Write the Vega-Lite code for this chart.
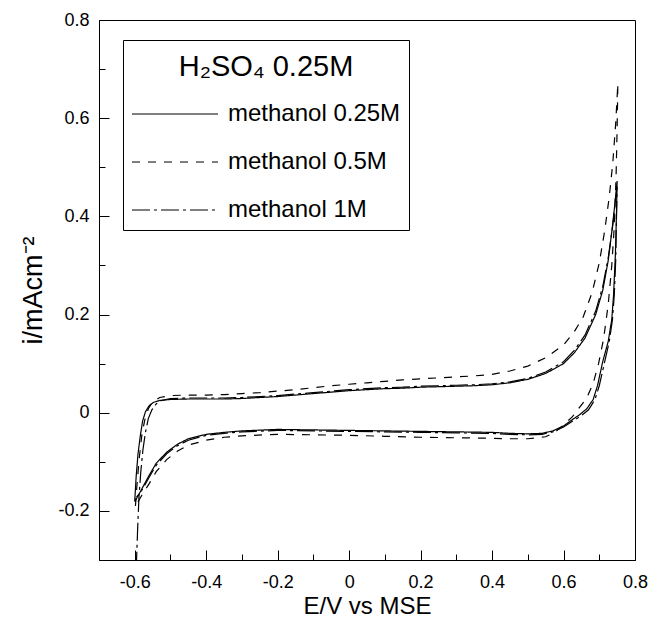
{
  "$schema": "https://vega.github.io/schema/vega-lite/v6.json",
  "width": 536,
  "height": 540,
  "autosize": {"type": "none"},
  "padding": {"left": 99, "top": 20, "right": 16, "bottom": 57},
  "config": {
    "view": {"stroke": "black", "strokeWidth": 1},
    "font": "Liberation Sans",
    "axis": {
      "domainColor": "black", "tickColor": "black", "labelColor": "black", "titleColor": "black",
      "labelFont": "Liberation Sans", "labelFontSize": 18, "titleFont": "Liberation Sans",
      "titleFontSize": 27, "titleFontWeight": "normal", "grid": false, "tickWidth": 1, "domainWidth": 1
    }
  },
  "data": {"values": [
    {"series":"methanol 0.25M","n":1,"E":-0.600,"i":-0.180},
    {"series":"methanol 0.25M","n":2,"E":-0.596,"i":-0.130},
    {"series":"methanol 0.25M","n":3,"E":-0.591,"i":-0.085},
    {"series":"methanol 0.25M","n":4,"E":-0.585,"i":-0.050},
    {"series":"methanol 0.25M","n":5,"E":-0.578,"i":-0.017},
    {"series":"methanol 0.25M","n":6,"E":-0.570,"i":0.002},
    {"series":"methanol 0.25M","n":7,"E":-0.560,"i":0.014},
    {"series":"methanol 0.25M","n":8,"E":-0.548,"i":0.021},
    {"series":"methanol 0.25M","n":9,"E":-0.530,"i":0.025},
    {"series":"methanol 0.25M","n":10,"E":-0.500,"i":0.027},
    {"series":"methanol 0.25M","n":11,"E":-0.450,"i":0.028},
    {"series":"methanol 0.25M","n":12,"E":-0.400,"i":0.028},
    {"series":"methanol 0.25M","n":13,"E":-0.350,"i":0.028},
    {"series":"methanol 0.25M","n":14,"E":-0.300,"i":0.029},
    {"series":"methanol 0.25M","n":15,"E":-0.250,"i":0.031},
    {"series":"methanol 0.25M","n":16,"E":-0.200,"i":0.033},
    {"series":"methanol 0.25M","n":17,"E":-0.150,"i":0.036},
    {"series":"methanol 0.25M","n":18,"E":-0.100,"i":0.039},
    {"series":"methanol 0.25M","n":19,"E":-0.050,"i":0.042},
    {"series":"methanol 0.25M","n":20,"E":0.000,"i":0.045},
    {"series":"methanol 0.25M","n":21,"E":0.050,"i":0.047},
    {"series":"methanol 0.25M","n":22,"E":0.100,"i":0.049},
    {"series":"methanol 0.25M","n":23,"E":0.150,"i":0.050},
    {"series":"methanol 0.25M","n":24,"E":0.200,"i":0.052},
    {"series":"methanol 0.25M","n":25,"E":0.250,"i":0.053},
    {"series":"methanol 0.25M","n":26,"E":0.300,"i":0.054},
    {"series":"methanol 0.25M","n":27,"E":0.350,"i":0.055},
    {"series":"methanol 0.25M","n":28,"E":0.400,"i":0.057},
    {"series":"methanol 0.25M","n":29,"E":0.450,"i":0.061},
    {"series":"methanol 0.25M","n":30,"E":0.500,"i":0.068},
    {"series":"methanol 0.25M","n":31,"E":0.550,"i":0.080},
    {"series":"methanol 0.25M","n":32,"E":0.600,"i":0.100},
    {"series":"methanol 0.25M","n":33,"E":0.630,"i":0.122},
    {"series":"methanol 0.25M","n":34,"E":0.660,"i":0.152},
    {"series":"methanol 0.25M","n":35,"E":0.690,"i":0.200},
    {"series":"methanol 0.25M","n":36,"E":0.710,"i":0.250},
    {"series":"methanol 0.25M","n":37,"E":0.725,"i":0.310},
    {"series":"methanol 0.25M","n":38,"E":0.737,"i":0.380},
    {"series":"methanol 0.25M","n":39,"E":0.745,"i":0.435},
    {"series":"methanol 0.25M","n":40,"E":0.750,"i":0.472},
    {"series":"methanol 0.25M","n":41,"E":0.748,"i":0.400},
    {"series":"methanol 0.25M","n":42,"E":0.745,"i":0.320},
    {"series":"methanol 0.25M","n":43,"E":0.740,"i":0.240},
    {"series":"methanol 0.25M","n":44,"E":0.735,"i":0.190},
    {"series":"methanol 0.25M","n":45,"E":0.725,"i":0.145},
    {"series":"methanol 0.25M","n":46,"E":0.710,"i":0.105},
    {"series":"methanol 0.25M","n":47,"E":0.695,"i":0.055},
    {"series":"methanol 0.25M","n":48,"E":0.683,"i":0.027},
    {"series":"methanol 0.25M","n":49,"E":0.665,"i":0.008},
    {"series":"methanol 0.25M","n":50,"E":0.645,"i":-0.004},
    {"series":"methanol 0.25M","n":51,"E":0.625,"i":-0.014},
    {"series":"methanol 0.25M","n":52,"E":0.600,"i":-0.027},
    {"series":"methanol 0.25M","n":53,"E":0.570,"i":-0.037},
    {"series":"methanol 0.25M","n":54,"E":0.540,"i":-0.042},
    {"series":"methanol 0.25M","n":55,"E":0.500,"i":-0.043},
    {"series":"methanol 0.25M","n":56,"E":0.450,"i":-0.042},
    {"series":"methanol 0.25M","n":57,"E":0.400,"i":-0.040},
    {"series":"methanol 0.25M","n":58,"E":0.300,"i":-0.039},
    {"series":"methanol 0.25M","n":59,"E":0.200,"i":-0.038},
    {"series":"methanol 0.25M","n":60,"E":0.100,"i":-0.037},
    {"series":"methanol 0.25M","n":61,"E":0.000,"i":-0.036},
    {"series":"methanol 0.25M","n":62,"E":-0.100,"i":-0.035},
    {"series":"methanol 0.25M","n":63,"E":-0.200,"i":-0.034},
    {"series":"methanol 0.25M","n":64,"E":-0.300,"i":-0.037},
    {"series":"methanol 0.25M","n":65,"E":-0.350,"i":-0.040},
    {"series":"methanol 0.25M","n":66,"E":-0.400,"i":-0.044},
    {"series":"methanol 0.25M","n":67,"E":-0.450,"i":-0.053},
    {"series":"methanol 0.25M","n":68,"E":-0.480,"i":-0.064},
    {"series":"methanol 0.25M","n":69,"E":-0.510,"i":-0.080},
    {"series":"methanol 0.25M","n":70,"E":-0.540,"i":-0.103},
    {"series":"methanol 0.25M","n":71,"E":-0.560,"i":-0.128},
    {"series":"methanol 0.25M","n":72,"E":-0.580,"i":-0.155},
    {"series":"methanol 0.25M","n":73,"E":-0.595,"i":-0.175},
    {"series":"methanol 0.25M","n":74,"E":-0.600,"i":-0.182},

    {"series":"methanol 0.5M","n":1,"E":-0.598,"i":-0.190},
    {"series":"methanol 0.5M","n":2,"E":-0.593,"i":-0.140},
    {"series":"methanol 0.5M","n":3,"E":-0.587,"i":-0.090},
    {"series":"methanol 0.5M","n":4,"E":-0.580,"i":-0.045},
    {"series":"methanol 0.5M","n":5,"E":-0.572,"i":-0.015},
    {"series":"methanol 0.5M","n":6,"E":-0.562,"i":0.008},
    {"series":"methanol 0.5M","n":7,"E":-0.550,"i":0.022},
    {"series":"methanol 0.5M","n":8,"E":-0.530,"i":0.031},
    {"series":"methanol 0.5M","n":9,"E":-0.500,"i":0.035},
    {"series":"methanol 0.5M","n":10,"E":-0.450,"i":0.036},
    {"series":"methanol 0.5M","n":11,"E":-0.400,"i":0.036},
    {"series":"methanol 0.5M","n":12,"E":-0.350,"i":0.037},
    {"series":"methanol 0.5M","n":13,"E":-0.300,"i":0.039},
    {"series":"methanol 0.5M","n":14,"E":-0.250,"i":0.041},
    {"series":"methanol 0.5M","n":15,"E":-0.200,"i":0.044},
    {"series":"methanol 0.5M","n":16,"E":-0.150,"i":0.047},
    {"series":"methanol 0.5M","n":17,"E":-0.100,"i":0.051},
    {"series":"methanol 0.5M","n":18,"E":-0.050,"i":0.055},
    {"series":"methanol 0.5M","n":19,"E":0.000,"i":0.058},
    {"series":"methanol 0.5M","n":20,"E":0.050,"i":0.061},
    {"series":"methanol 0.5M","n":21,"E":0.100,"i":0.064},
    {"series":"methanol 0.5M","n":22,"E":0.150,"i":0.067},
    {"series":"methanol 0.5M","n":23,"E":0.200,"i":0.069},
    {"series":"methanol 0.5M","n":24,"E":0.250,"i":0.071},
    {"series":"methanol 0.5M","n":25,"E":0.300,"i":0.073},
    {"series":"methanol 0.5M","n":26,"E":0.350,"i":0.075},
    {"series":"methanol 0.5M","n":27,"E":0.400,"i":0.078},
    {"series":"methanol 0.5M","n":28,"E":0.450,"i":0.085},
    {"series":"methanol 0.5M","n":29,"E":0.500,"i":0.095},
    {"series":"methanol 0.5M","n":30,"E":0.550,"i":0.112},
    {"series":"methanol 0.5M","n":31,"E":0.600,"i":0.138},
    {"series":"methanol 0.5M","n":32,"E":0.630,"i":0.165},
    {"series":"methanol 0.5M","n":33,"E":0.655,"i":0.195},
    {"series":"methanol 0.5M","n":34,"E":0.680,"i":0.245},
    {"series":"methanol 0.5M","n":35,"E":0.700,"i":0.305},
    {"series":"methanol 0.5M","n":36,"E":0.715,"i":0.370},
    {"series":"methanol 0.5M","n":37,"E":0.728,"i":0.440},
    {"series":"methanol 0.5M","n":38,"E":0.738,"i":0.510},
    {"series":"methanol 0.5M","n":39,"E":0.746,"i":0.590},
    {"series":"methanol 0.5M","n":40,"E":0.752,"i":0.670},
    {"series":"methanol 0.5M","n":41,"E":0.750,"i":0.580},
    {"series":"methanol 0.5M","n":42,"E":0.747,"i":0.480},
    {"series":"methanol 0.5M","n":43,"E":0.742,"i":0.380},
    {"series":"methanol 0.5M","n":44,"E":0.735,"i":0.300},
    {"series":"methanol 0.5M","n":45,"E":0.725,"i":0.220},
    {"series":"methanol 0.5M","n":46,"E":0.712,"i":0.150},
    {"series":"methanol 0.5M","n":47,"E":0.698,"i":0.100},
    {"series":"methanol 0.5M","n":48,"E":0.683,"i":0.060},
    {"series":"methanol 0.5M","n":49,"E":0.665,"i":0.030},
    {"series":"methanol 0.5M","n":50,"E":0.646,"i":0.012},
    {"series":"methanol 0.5M","n":51,"E":0.625,"i":-0.008},
    {"series":"methanol 0.5M","n":52,"E":0.600,"i":-0.025},
    {"series":"methanol 0.5M","n":53,"E":0.575,"i":-0.040},
    {"series":"methanol 0.5M","n":54,"E":0.550,"i":-0.049},
    {"series":"methanol 0.5M","n":55,"E":0.500,"i":-0.053},
    {"series":"methanol 0.5M","n":56,"E":0.450,"i":-0.053},
    {"series":"methanol 0.5M","n":57,"E":0.400,"i":-0.052},
    {"series":"methanol 0.5M","n":58,"E":0.300,"i":-0.051},
    {"series":"methanol 0.5M","n":59,"E":0.200,"i":-0.050},
    {"series":"methanol 0.5M","n":60,"E":0.100,"i":-0.048},
    {"series":"methanol 0.5M","n":61,"E":0.000,"i":-0.046},
    {"series":"methanol 0.5M","n":62,"E":-0.100,"i":-0.045},
    {"series":"methanol 0.5M","n":63,"E":-0.200,"i":-0.044},
    {"series":"methanol 0.5M","n":64,"E":-0.300,"i":-0.047},
    {"series":"methanol 0.5M","n":65,"E":-0.350,"i":-0.050},
    {"series":"methanol 0.5M","n":66,"E":-0.400,"i":-0.056},
    {"series":"methanol 0.5M","n":67,"E":-0.450,"i":-0.066},
    {"series":"methanol 0.5M","n":68,"E":-0.480,"i":-0.078},
    {"series":"methanol 0.5M","n":69,"E":-0.510,"i":-0.095},
    {"series":"methanol 0.5M","n":70,"E":-0.540,"i":-0.120},
    {"series":"methanol 0.5M","n":71,"E":-0.560,"i":-0.145},
    {"series":"methanol 0.5M","n":72,"E":-0.580,"i":-0.168},
    {"series":"methanol 0.5M","n":73,"E":-0.598,"i":-0.190},

    {"series":"methanol 1M","n":1,"E":-0.596,"i":-0.320},
    {"series":"methanol 1M","n":2,"E":-0.594,"i":-0.280},
    {"series":"methanol 1M","n":3,"E":-0.591,"i":-0.220},
    {"series":"methanol 1M","n":4,"E":-0.588,"i":-0.170},
    {"series":"methanol 1M","n":5,"E":-0.583,"i":-0.120},
    {"series":"methanol 1M","n":6,"E":-0.577,"i":-0.075},
    {"series":"methanol 1M","n":7,"E":-0.570,"i":-0.040},
    {"series":"methanol 1M","n":8,"E":-0.562,"i":-0.012},
    {"series":"methanol 1M","n":9,"E":-0.552,"i":0.006},
    {"series":"methanol 1M","n":10,"E":-0.540,"i":0.018},
    {"series":"methanol 1M","n":11,"E":-0.525,"i":0.025},
    {"series":"methanol 1M","n":12,"E":-0.500,"i":0.029},
    {"series":"methanol 1M","n":13,"E":-0.450,"i":0.030},
    {"series":"methanol 1M","n":14,"E":-0.400,"i":0.030},
    {"series":"methanol 1M","n":15,"E":-0.350,"i":0.030},
    {"series":"methanol 1M","n":16,"E":-0.300,"i":0.031},
    {"series":"methanol 1M","n":17,"E":-0.250,"i":0.033},
    {"series":"methanol 1M","n":18,"E":-0.200,"i":0.035},
    {"series":"methanol 1M","n":19,"E":-0.150,"i":0.038},
    {"series":"methanol 1M","n":20,"E":-0.100,"i":0.041},
    {"series":"methanol 1M","n":21,"E":-0.050,"i":0.044},
    {"series":"methanol 1M","n":22,"E":0.000,"i":0.047},
    {"series":"methanol 1M","n":23,"E":0.050,"i":0.049},
    {"series":"methanol 1M","n":24,"E":0.100,"i":0.051},
    {"series":"methanol 1M","n":25,"E":0.150,"i":0.052},
    {"series":"methanol 1M","n":26,"E":0.200,"i":0.054},
    {"series":"methanol 1M","n":27,"E":0.250,"i":0.055},
    {"series":"methanol 1M","n":28,"E":0.300,"i":0.056},
    {"series":"methanol 1M","n":29,"E":0.350,"i":0.057},
    {"series":"methanol 1M","n":30,"E":0.400,"i":0.059},
    {"series":"methanol 1M","n":31,"E":0.450,"i":0.063},
    {"series":"methanol 1M","n":32,"E":0.500,"i":0.070},
    {"series":"methanol 1M","n":33,"E":0.550,"i":0.083},
    {"series":"methanol 1M","n":34,"E":0.600,"i":0.104},
    {"series":"methanol 1M","n":35,"E":0.630,"i":0.127},
    {"series":"methanol 1M","n":36,"E":0.660,"i":0.158},
    {"series":"methanol 1M","n":37,"E":0.690,"i":0.207},
    {"series":"methanol 1M","n":38,"E":0.710,"i":0.258},
    {"series":"methanol 1M","n":39,"E":0.725,"i":0.315},
    {"series":"methanol 1M","n":40,"E":0.737,"i":0.378},
    {"series":"methanol 1M","n":41,"E":0.745,"i":0.428},
    {"series":"methanol 1M","n":42,"E":0.750,"i":0.460},
    {"series":"methanol 1M","n":43,"E":0.748,"i":0.390},
    {"series":"methanol 1M","n":44,"E":0.746,"i":0.310},
    {"series":"methanol 1M","n":45,"E":0.742,"i":0.240},
    {"series":"methanol 1M","n":46,"E":0.737,"i":0.190},
    {"series":"methanol 1M","n":47,"E":0.728,"i":0.145},
    {"series":"methanol 1M","n":48,"E":0.714,"i":0.100},
    {"series":"methanol 1M","n":49,"E":0.700,"i":0.055},
    {"series":"methanol 1M","n":50,"E":0.688,"i":0.027},
    {"series":"methanol 1M","n":51,"E":0.670,"i":0.006},
    {"series":"methanol 1M","n":52,"E":0.650,"i":-0.006},
    {"series":"methanol 1M","n":53,"E":0.628,"i":-0.016},
    {"series":"methanol 1M","n":54,"E":0.600,"i":-0.029},
    {"series":"methanol 1M","n":55,"E":0.570,"i":-0.039},
    {"series":"methanol 1M","n":56,"E":0.540,"i":-0.044},
    {"series":"methanol 1M","n":57,"E":0.500,"i":-0.045},
    {"series":"methanol 1M","n":58,"E":0.450,"i":-0.044},
    {"series":"methanol 1M","n":59,"E":0.400,"i":-0.042},
    {"series":"methanol 1M","n":60,"E":0.300,"i":-0.041},
    {"series":"methanol 1M","n":61,"E":0.200,"i":-0.040},
    {"series":"methanol 1M","n":62,"E":0.100,"i":-0.039},
    {"series":"methanol 1M","n":63,"E":0.000,"i":-0.038},
    {"series":"methanol 1M","n":64,"E":-0.100,"i":-0.037},
    {"series":"methanol 1M","n":65,"E":-0.200,"i":-0.036},
    {"series":"methanol 1M","n":66,"E":-0.300,"i":-0.039},
    {"series":"methanol 1M","n":67,"E":-0.350,"i":-0.042},
    {"series":"methanol 1M","n":68,"E":-0.400,"i":-0.046},
    {"series":"methanol 1M","n":69,"E":-0.450,"i":-0.056},
    {"series":"methanol 1M","n":70,"E":-0.480,"i":-0.067},
    {"series":"methanol 1M","n":71,"E":-0.510,"i":-0.083},
    {"series":"methanol 1M","n":72,"E":-0.540,"i":-0.107},
    {"series":"methanol 1M","n":73,"E":-0.560,"i":-0.132},
    {"series":"methanol 1M","n":74,"E":-0.580,"i":-0.158},
    {"series":"methanol 1M","n":75,"E":-0.595,"i":-0.172}
  ]},
  "layer": [
    {
      "mark": {"type": "line", "clip": true, "strokeWidth": 1.2, "color": "black"},
      "encoding": {
        "x": {"field": "E", "type": "quantitative",
          "scale": {"domain": [-0.7, 0.8], "nice": false, "zero": false},
          "axis": {"orient": "bottom", "values": [-0.6, -0.4, -0.2, 0, 0.2, 0.4, 0.6, 0.8], "format": "~g",
            "labelExpr": "replace(datum.label, '−', '-')", "tickSize": -10, "labelPadding": 23,
            "labelFlush": false, "labelOverlap": false, "title": "E/V vs MSE", "titleFontSize": 24, "titlePadding": 3}},
        "y": {"field": "i", "type": "quantitative",
          "scale": {"domain": [-0.3, 0.8], "nice": false, "zero": false},
          "axis": {"orient": "left", "values": [-0.2, 0, 0.2, 0.4, 0.6, 0.8], "format": "~g",
            "labelExpr": "replace(datum.label, '−', '-')", "tickSize": -10, "labelPadding": 20,
            "labelFlush": false, "labelOverlap": false, "title": "i/mAcm⁻²", "titlePadding": 10}},
        "order": {"field": "n", "type": "quantitative"},
        "strokeDash": {"field": "series", "type": "nominal",
          "scale": {"domain": ["methanol 0.25M", "methanol 0.5M", "methanol 1M"],
                    "range": [[1, 0], [8, 8], [18, 4, 3, 4]]},
          "legend": {"orient": "none", "legendX": 24, "legendY": 20,
            "title": "H₂SO₄ 0.25M", "titleFont": "Liberation Sans", "titleFontSize": 29,
            "titleFontWeight": "normal", "titleColor": "black", "titleAnchor": "middle", "titleAlign": "center",
            "titleBaseline": "line-top", "titleLineHeight": 40,
            "titlePadding": 25, "labelFont": "Liberation Sans", "labelFontSize": 24, "labelColor": "black",
            "labelOffset": 9, "labelLimit": 400, "symbolType": "stroke", "symbolSize": 7400,
            "symbolStrokeWidth": 1.2, "symbolStrokeColor": "black", "strokeColor": "black",
            "padding": 8, "clipHeight": 24, "rowPadding": 24}}
      }
    },
    {
      "mark": {"type": "point", "opacity": 0},
      "encoding": {
        "x": {"field": "E", "type": "quantitative",
          "scale": {"domain": [-0.7, 0.8], "nice": false, "zero": false},
          "axis": {"orient": "bottom", "values": [-0.5, -0.3, -0.1, 0.1, 0.3, 0.5, 0.7],
            "tickSize": -6, "labels": false, "domain": false, "title": null}},
        "y": {"field": "i", "type": "quantitative",
          "scale": {"domain": [-0.3, 0.8], "nice": false, "zero": false},
          "axis": {"orient": "left", "values": [-0.1, 0.1, 0.3, 0.5, 0.7],
            "tickSize": -6, "labels": false, "domain": false, "title": null}}
      }
    }
  ],
  "resolve": {"axis": {"x": "independent", "y": "independent"}}
}
